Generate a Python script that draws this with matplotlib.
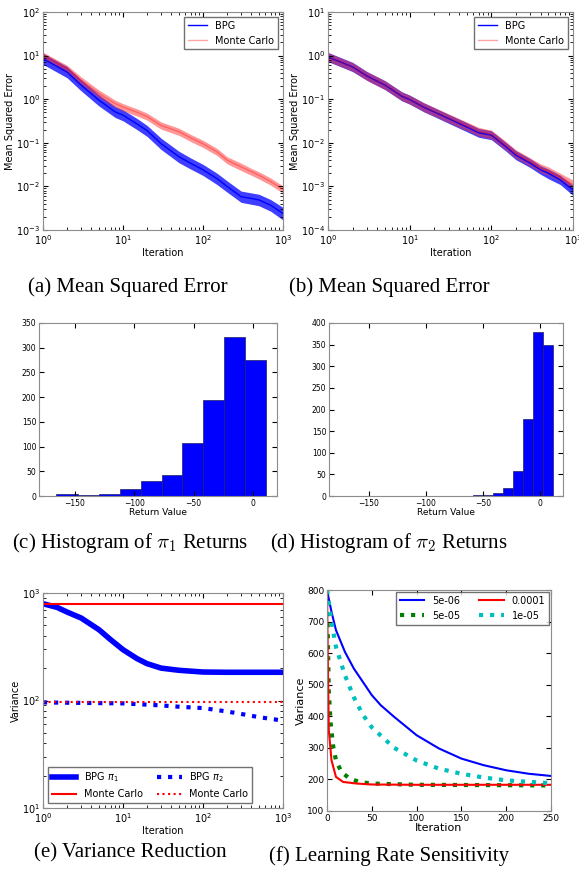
""" Figura: MSE, histogramas y reduccion de varianza """

# * Importar librerias a utilizar
import numpy as np
import matplotlib
matplotlib.use('Agg')
import matplotlib.pyplot as plt

plt.rcParams['xtick.direction'] = 'in'
plt.rcParams['ytick.direction'] = 'in'
plt.rcParams['xtick.top'] = True
plt.rcParams['ytick.right'] = True
plt.rcParams['axes.edgecolor'] = '0.55'
plt.rcParams['axes.linewidth'] = 0.8



# * Datos (a) y (b): error cuadratico medio
iteraciones = [1, 2, 3, 5, 8, 10, 15, 20, 30, 50, 70, 100, 150, 200, 300, 400, 500, 700, 1000]

mse_a_bpg = [8.5, 4.2, 2.1, 0.95, 0.51, 0.43, 0.27, 0.19, 0.095, 0.048, 0.034, 0.024, 0.015, 0.010, 0.0058, 0.0053, 0.0049, 0.0037, 0.0024]
mse_a_bpg_lo = [6.3, 3.1, 1.55, 0.70, 0.38, 0.32, 0.20, 0.14, 0.070, 0.035, 0.025, 0.0178, 0.011, 0.0074, 0.0043, 0.0039, 0.0036, 0.0027, 0.0017]
mse_a_bpg_hi = [11.3, 5.6, 2.8, 1.27, 0.68, 0.57, 0.36, 0.25, 0.127, 0.064, 0.045, 0.032, 0.020, 0.0134, 0.0078, 0.0071, 0.0066, 0.0050, 0.0033]
mse_a_mc = [10.0, 5.0, 2.7, 1.35, 0.79, 0.66, 0.50, 0.40, 0.25, 0.18, 0.13, 0.095, 0.062, 0.040, 0.028, 0.022, 0.018, 0.013, 0.0085]
mse_a_mc_lo = [8.2, 4.1, 2.2, 1.1, 0.65, 0.54, 0.41, 0.33, 0.205, 0.148, 0.107, 0.078, 0.051, 0.033, 0.023, 0.018, 0.0148, 0.0107, 0.0070]
mse_a_mc_hi = [12.0, 6.0, 3.25, 1.62, 0.95, 0.79, 0.60, 0.48, 0.30, 0.216, 0.156, 0.114, 0.074, 0.048, 0.034, 0.026, 0.0216, 0.0156, 0.0102]

mse_b_bpg = [0.93, 0.55, 0.34, 0.21, 0.117, 0.098, 0.065, 0.051, 0.036, 0.023, 0.017, 0.015, 0.0082, 0.0052, 0.0034, 0.0024, 0.0020, 0.0014, 0.00083]
mse_b_bpg_lo = [0.73, 0.43, 0.27, 0.165, 0.092, 0.077, 0.051, 0.040, 0.028, 0.018, 0.0134, 0.0118, 0.0065, 0.0041, 0.0027, 0.0019, 0.0015, 0.0011, 0.00062]
mse_b_bpg_hi = [1.18, 0.70, 0.43, 0.265, 0.148, 0.124, 0.082, 0.064, 0.045, 0.029, 0.0214, 0.0189, 0.0103, 0.0066, 0.0043, 0.0030, 0.0025, 0.0018, 0.00105]
mse_b_mc = [0.93, 0.55, 0.34, 0.21, 0.117, 0.098, 0.066, 0.052, 0.037, 0.024, 0.018, 0.0155, 0.0086, 0.0055, 0.0036, 0.0026, 0.0022, 0.0016, 0.0011]
mse_b_mc_lo = [0.74, 0.44, 0.27, 0.167, 0.093, 0.078, 0.052, 0.041, 0.029, 0.019, 0.0143, 0.0123, 0.0068, 0.0044, 0.0029, 0.0021, 0.0018, 0.0013, 0.00085]
mse_b_mc_hi = [1.17, 0.69, 0.43, 0.265, 0.147, 0.123, 0.083, 0.065, 0.046, 0.030, 0.0226, 0.0195, 0.0108, 0.0069, 0.0045, 0.0033, 0.0028, 0.0020, 0.0014]

# * Datos (c) y (d): histogramas de retornos
bordes_pi1 = [-165.3, -147.5, -130.0, -112.3, -94.6, -77.0, -59.5, -42.0, -24.3, -6.5, 11.0]
conteo_pi1 = [4, 2, 5, 15, 30, 42, 108, 195, 322, 275]
bordes_pi2 = [-76.4, -67.6, -58.9, -50.1, -41.4, -32.7, -23.9, -15.2, -6.4, 2.3, 11.1]
conteo_pi2 = [1, 0, 2, 3, 7, 18, 58, 178, 380, 348]

# * Datos (e): reduccion de varianza
it_bpg1 = [1, 1.5, 2, 3, 5, 7, 10, 15, 20, 30, 50, 100, 200, 500, 1000]
var_bpg1 = [795, 735, 665, 585, 456, 368, 297, 245, 220, 200, 191, 184, 183, 183, 183]
it_bpg2 = [1, 3, 10, 30, 50, 100, 200, 300, 500, 1000]
var_bpg2 = [96, 95, 94, 90, 87.5, 85, 79, 75, 70, 65]
it_mc = [1, 1000]
var_mc1 = [795, 795]
var_mc2 = [96, 96]

# * Datos (f): sensibilidad a la tasa de aprendizaje
tasas = ['5e-06', '5e-05', '0.0001', '1e-05']
it_f = [
    [0, 5, 10, 20, 30, 40, 50, 60, 75, 100, 125, 150, 175, 200, 225, 250],
    [0, 1, 2, 4, 7, 10, 16, 25, 36, 50, 100, 250],
    [0, 1, 2, 5, 10, 18, 33, 50, 100, 250],
    [0, 5, 10, 20, 30, 40, 50, 75, 100, 125, 150, 175, 200, 250],
]
var_f = [
    [800, 731, 673, 604, 551, 509, 467, 435, 398, 340, 298, 266, 245, 229, 218, 211],
    [800, 640, 480, 380, 303, 261, 224, 203, 192, 187, 183, 181],
    [800, 560, 356, 261, 208, 192, 187, 184, 183, 183],
    [800, 700, 620, 530, 460, 405, 365, 300, 260, 234, 218, 206, 197, 188],
]



# * Figura y ejes (posiciones en pixeles)
W, H = 579, 877
fig = plt.figure(figsize=(W / 100, H / 100), dpi=100)


def eje(x0, x1, y0, y1):
    return fig.add_axes([x0 / W, (H - y1) / H, (x1 - x0) / W, (y1 - y0) / H])


ax_a = eje(43, 283, 12, 230)
ax_b = eje(328, 573, 12, 230)
ax_c = eje(39, 277, 323, 496)
ax_d = eje(329, 563, 323, 496)
ax_e = eje(43, 283, 593, 808)
ax_f = eje(327, 551, 590, 811)



# * (a) y (b) MSE
def panel_mse(ax, bpg, lo_b, hi_b, mc, lo_m, hi_m, ylim):
    ax.fill_between(iteraciones, lo_b, hi_b, color='#2a2aff', alpha=0.9, lw=0)
    ax.plot(iteraciones, bpg, color='#0000ff', lw=1, label='BPG')
    ax.fill_between(iteraciones, lo_m, hi_m, color='#ff3030', alpha=0.5, lw=0)
    ax.plot(iteraciones, mc, color='#ff0000', alpha=0.35, lw=1, label='Monte Carlo')
    ax.set_xscale('log')
    ax.set_yscale('log')
    ax.set_xlim(1, 1000)
    ax.set_ylim(*ylim)
    ax.set_xlabel('Iteration', fontsize=7, labelpad=1)
    ax.set_ylabel('Mean Squared Error', fontsize=7, labelpad=1)
    ax.tick_params(labelsize=7, pad=2)
    ax.legend(loc='upper right', fontsize=7, fancybox=False, edgecolor='0.3')


panel_mse(ax_a, mse_a_bpg, mse_a_bpg_lo, mse_a_bpg_hi, mse_a_mc, mse_a_mc_lo, mse_a_mc_hi, (1e-3, 1e2))
panel_mse(ax_b, mse_b_bpg, mse_b_bpg_lo, mse_b_bpg_hi, mse_b_mc, mse_b_mc_lo, mse_b_mc_hi, (1e-4, 1e1))



# * (c) y (d) histogramas
def panel_hist(ax, bordes, conteo, xlim, ylim):
    ax.hist(bordes[:-1], bins=bordes, weights=conteo, color='#0000ff', edgecolor='#202060', lw=0.5)
    ax.set_xlim(*xlim)
    ax.set_ylim(*ylim)
    ax.set_xticks([-150, -100, -50, 0])
    ax.set_yticks(np.arange(0, ylim[1] + 1, 50))
    ax.set_xlabel('Return Value', fontsize=6.5, labelpad=0)
    ax.tick_params(labelsize=5.5, pad=2)


panel_hist(ax_c, bordes_pi1, conteo_pi1, (-180, 20), (0, 350))
panel_hist(ax_d, bordes_pi2, conteo_pi2, (-185, 20), (0, 400))



# * (e) reduccion de varianza
l1, = ax_e.plot(it_bpg1, var_bpg1, color='#0000ff', lw=4, label='BPG $\\pi_1$')
l2, = ax_e.plot(it_mc, var_mc1, color='#ff0000', lw=1.5, label='Monte Carlo')
l3, = ax_e.plot(it_bpg2, var_bpg2, color='#0000ff', lw=3, ls=':', label='BPG $\\pi_2$')
l4, = ax_e.plot(it_mc, var_mc2, color='#ff0000', lw=1.5, ls=':', label='Monte Carlo')
ax_e.set_xscale('log')
ax_e.set_yscale('log')
ax_e.set_xlim(1, 1000)
ax_e.set_ylim(10, 1000)
ax_e.set_xlabel('Iteration', fontsize=7, labelpad=1)
ax_e.set_ylabel('Variance', fontsize=7, labelpad=1)
ax_e.tick_params(labelsize=7, pad=2)
ax_e.legend(handles=[l1, l2, l3, l4], loc='lower left', ncol=2, fontsize=7,
            fancybox=False, edgecolor='0.3', handlelength=2.5, columnspacing=1.5)



# * (f) sensibilidad a la tasa de aprendizaje
colores_f = ['#0000ff', '#008000', '#ff0000', '#00bfbf']
estilos_f = ['-', ':', '-', ':']
anchos_f = [1.5, 3, 1.5, 3]
for xs, ys, tasa, c, ls, lw in zip(it_f, var_f, tasas, colores_f, estilos_f, anchos_f):
    ax_f.plot(xs, ys, color=c, ls=ls, lw=lw, label=tasa)
ax_f.set_xlim(0, 250)
ax_f.set_ylim(100, 800)
ax_f.set_xlabel('Iteration', fontsize=8, labelpad=0)
ax_f.set_ylabel('Variance', fontsize=8, labelpad=1)
ax_f.tick_params(labelsize=6.5, pad=2)
ax_f.legend(loc='upper right', ncol=2, fontsize=7, fancybox=False, edgecolor='0.3',
            handlelength=2.5, borderaxespad=0.2)



# * Subtitulos
titulos = [
    (128, 287, '(a) Mean Squared Error'),
    (389, 287, '(b) Mean Squared Error'),
    (130, 543, '(c) Histogram of $\\pi_1$ Returns'),
    (389, 543, '(d) Histogram of $\\pi_2$ Returns'),
    (130, 853, '(e) Variance Reduction'),
    (389, 856, '(f) Learning Rate Sensitivity'),
]
for x, y, t in titulos:
    fig.text(x / W, (H - y) / H, t, ha='center', va='center', fontsize=15,
             family='Liberation Serif', math_fontfamily='cm')

fig.savefig('out.png', dpi=100)
